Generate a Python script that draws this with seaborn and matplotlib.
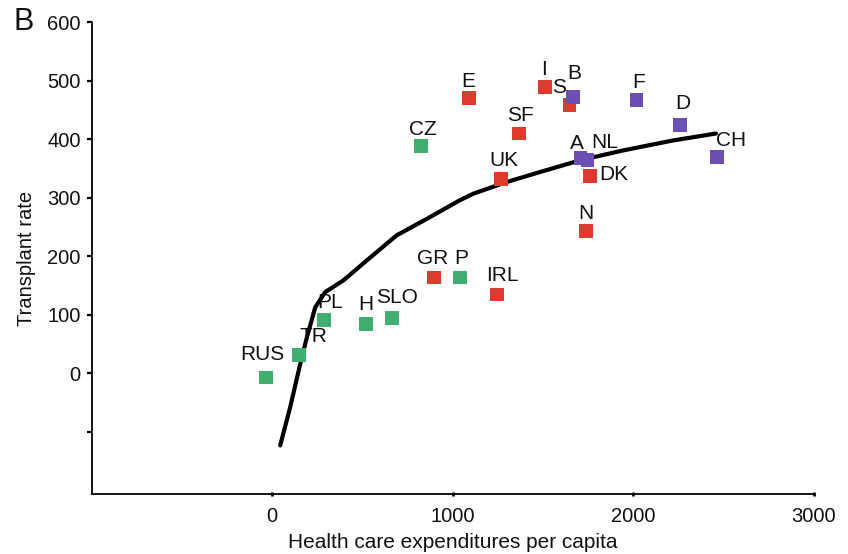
import matplotlib
matplotlib.use("Agg")
import matplotlib.pyplot as plt
import seaborn as sns
import pandas as pd

# ---- data ----
countries = ["RUS", "TR", "PL", "H", "SLO", "P", "CZ",
             "GR", "IRL", "E", "SF", "UK", "I", "S", "DK", "N",
             "B", "F", "D", "CH", "A", "NL"]
expenditure = [-33, 149, 287, 519, 663, 1039, 823,
               895, 1243, 1088, 1365, 1265, 1508, 1646, 1762, 1735,
               1663, 2017, 2260, 2464, 1707, 1746]
transplant = [-7, 32, 91, 84, 94, 164, 388,
              164, 135, 470, 410, 333, 490, 458, 338, 243,
              472, 468, 425, 370, 368, 365]
group = ["green"] * 7 + ["red"] * 9 + ["purple"] * 6

curve_x = [44, 99, 151, 192, 238, 293, 394, 523, 689, 855, 1039, 1112,
           1297, 1481, 1702, 1941, 2217, 2457]
curve_y = [-123, -58, 11, 62, 113, 139, 159, 193, 236, 264, 296, 307,
           327, 344, 364, 381, 398, 410]

x_ticks = [0, 1000, 2000, 3000]
y_ticks = [0, 100, 200, 300, 400, 500, 600]
y_minor = [-100]

# ---- style ----
palette = {"green": "#3fae6e", "red": "#e0392e", "purple": "#6b4fb5"}
label_offsets = {  # pixel offsets of the label from the marker (dx, dy down)
    "RUS": (-4, -23), "TR": (14, -18), "PL": (6, -18), "H": (0, -20),
    "SLO": (5, -21), "GR": (-1, -19), "P": (1, -19), "IRL": (6, -19),
    "CZ": (2, -17), "E": (0, -17), "SF": (2, -18), "UK": (3, -18),
    "I": (-1, -17), "S": (-10, -18), "B": (2, -24), "F": (2, -17),
    "D": (2, -21), "CH": (14, -16), "A": (-4, -15), "NL": (17, -17),
    "DK": (23, -1), "N": (0, -18),
}

sns.set_theme(style="white")
plt.rcParams["font.family"] = ["Liberation Sans", "DejaVu Sans"]

df = pd.DataFrame({"country": countries, "x": expenditure,
                   "y": transplant, "group": group})
curve = pd.DataFrame({"x": curve_x, "y": curve_y})

fig = plt.figure(figsize=(8.48, 5.54), dpi=100)
ax = fig.add_axes([0.1081, 0.1083, 0.9599 - 0.1081, 0.9597 - 0.1083])

sns.lineplot(data=curve, x="x", y="y", sort=False, color="black",
             linewidth=3.0, ax=ax, zorder=2)
sns.scatterplot(data=df, x="x", y="y", hue="group", palette=palette,
                marker="s", s=100, linewidth=0, legend=False, ax=ax, zorder=3)

for c, xv, yv in zip(countries, expenditure, transplant):
    dx, dy = label_offsets[c]
    ax.annotate(c, (xv, yv), xytext=(dx, -dy), textcoords="offset pixels",
                ha="center", va="center", fontsize=15, color="#111111",
                zorder=4)

ax.set_xlim(-1000, 3000)
ax.set_ylim(-206, 600)
ax.set_xticks(x_ticks)
ax.set_yticks(y_ticks)
ax.set_yticks(y_minor, minor=True)

for s in ["top", "right"]:
    ax.spines[s].set_visible(False)
for s in ["left", "bottom"]:
    ax.spines[s].set_color("black")
    ax.spines[s].set_linewidth(1.3)

ax.tick_params(axis="y", which="both", direction="out", length=3.5, width=1.6,
               color="black", labelsize=14.5, pad=4.5, left=True,
               labelcolor="#111111")
ax.tick_params(axis="x", direction="inout", length=3, width=2, color="black",
               labelsize=14.5, pad=8, bottom=True, labelcolor="#111111")
ax.set_xlabel("Health care expenditures per capita", fontsize=15,
              color="#111111", labelpad=5)
ax.set_ylabel("Transplant rate", fontsize=14.5, color="#111111", labelpad=8)
ax.grid(False)

fig.text(24 / 848, 1 - 22 / 554, "B", fontsize=22, ha="center", va="center",
         color="#111111")

fig.savefig("out.png", dpi=100)
